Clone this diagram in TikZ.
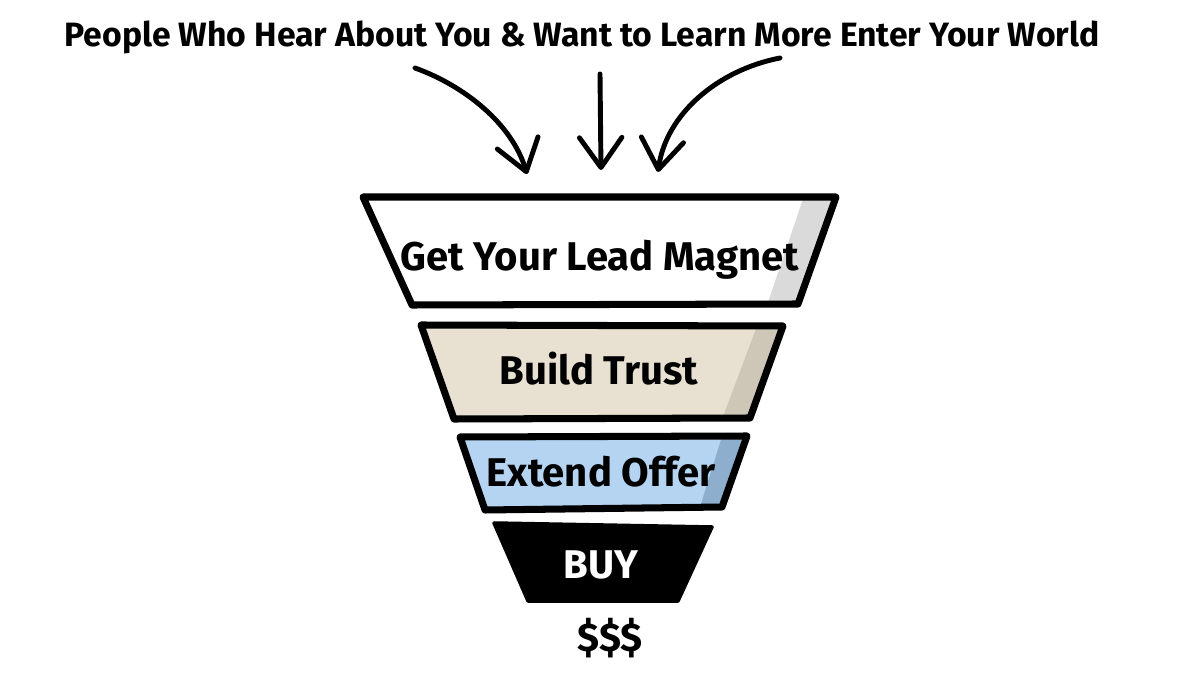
\documentclass[tikz,border=0pt]{standalone}
\usepackage{fontspec}
\setmainfont{Fira Sans}
\usetikzlibrary{arrows.meta, positioning, calc}
\definecolor{leadshade}{RGB}{218,218,218}
\definecolor{trustbeige}{RGB}{232,224,209}
\definecolor{trustshade}{RGB}{206,198,183}
\definecolor{offerblue}{RGB}{180,212,242}
\definecolor{offershade}{RGB}{142,174,206}

\begin{document}
\begin{tikzpicture}[
    x=0.02cm, y=-0.02cm,
    stage/.style={draw, line width=4pt, line join=round},
    stagetext/.style={font=\fontsize{22.8}{26}\selectfont\bfseries, anchor=base},
    arrow/.style={-{Straight Barb[length=0.6cm, width=0.85cm, line cap=round, line join=round]}, line width=2.8pt, line cap=round}
]
    \useasboundingbox (0,0) rectangle (1200,675);

    % Heading
    \node[font=\fontsize{19.2}{21}\selectfont\bfseries, anchor=base] (heading) at (582,47) {People Who Hear About You \& Want to Learn More Enter Your World};

    % Stage 1: lead magnet
    \draw[stage, fill=white, path picture={\fill[leadshade] (806,190) -- (860,190) -- (820,320) -- (762,320) -- cycle;}]
        (363,197) -- (836,197) -- (798,304) -- (412,305) -- cycle;
    \node[stagetext] (lead) at (600,271) {Get Your Lead Magnet};

    % Stage 2: trust
    \draw[stage, fill=trustbeige, path picture={\fill[trustshade] (760,318) -- (800,318) -- (760,430) -- (718,430) -- cycle;}]
        (421,325) -- (783,326) -- (750,418) -- (454,419) -- cycle;
    \node[stagetext] (trust) at (599,385) {Build Trust};

    % Stage 3: offer
    \draw[stage, fill=offerblue, path picture={\fill[offershade] (724,430) -- (760,430) -- (730,520) -- (696,520) -- cycle;}]
        (460,437) -- (747,436) -- (722,507) -- (485,510) -- cycle;
    \node[stagetext] (offer) at (601,486) {Extend Offer};

    % Stage 4: buy
    \draw[stage, fill=black, line width=2pt] (494,523) -- (712,527) -- (678,601) -- (528,601) -- cycle;
    \node[stagetext, text=white] (buy) at (601,578) {BUY};

    % Result
    \node[stagetext] (money) at (610,651) {\$\$\$};

    % Incoming arrows
    \coordinate (inleft) at (415,68);
    \coordinate (inmid) at (600,74);
    \coordinate (inright) at (780,58);
    \coordinate (tipleft) at (527,174);
    \coordinate (tipmid) at (601,170);
    \coordinate (tipright) at (658,172);
    \draw[arrow] (inleft) .. controls (465,86) and (512,124) .. (tipleft);
    \draw[arrow] (inmid) -- (tipmid);
    \draw[arrow] (inright) .. controls (718,70) and (666,114) .. (tipright);
\end{tikzpicture}
\end{document}
